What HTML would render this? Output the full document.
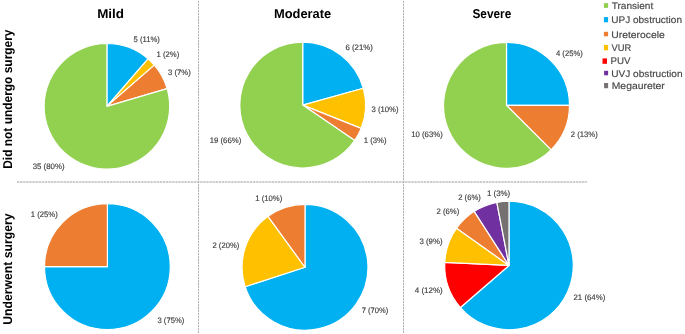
<!DOCTYPE html>
<html lang="en"><head><meta charset="utf-8"><title>Pie charts</title>
<style>html,body{margin:0;padding:0;background:#fff;}svg{display:block;will-change:transform;}</style></head>
<body>
<svg width="685" height="334" viewBox="0 0 685 334" font-family="Liberation Sans, Arial, sans-serif" text-rendering="geometricPrecision">
<rect width="685" height="334" fill="#fff"/>
<line x1="17" y1="182" x2="587" y2="182" stroke="#efefef" stroke-width="2"/>
<line x1="17.05" y1="182" x2="587" y2="182" stroke="#cccccc" stroke-width="2" stroke-dasharray="2 1.106"/>
<line x1="198.5" y1="1" x2="198.5" y2="333" stroke="#e8e8e8" stroke-width="1"/>
<line x1="198.5" y1="1.1" x2="198.5" y2="333" stroke="#b0b0b0" stroke-width="1" stroke-dasharray="1.9 1.1"/>
<line x1="403.5" y1="1" x2="403.5" y2="333" stroke="#e9e9e9" stroke-width="1"/>
<line x1="403.5" y1="1.1" x2="403.5" y2="333" stroke="#b0b0b0" stroke-width="1" stroke-dasharray="1.9 1.1"/>
<path d="M106.90,106.30 L106.90,43.50 A62.8,62.8 0 0 1 148.03,58.84 Z" fill="#00B0F0" stroke="#fff" stroke-width="1.2" stroke-linejoin="round"/>
<path d="M106.90,106.30 L148.03,58.84 A62.8,62.8 0 0 1 154.36,65.17 Z" fill="#FFC000" stroke="#fff" stroke-width="1.2" stroke-linejoin="round"/>
<path d="M106.90,106.30 L154.36,65.17 A62.8,62.8 0 0 1 167.16,88.61 Z" fill="#ED7D31" stroke="#fff" stroke-width="1.2" stroke-linejoin="round"/>
<path d="M106.90,106.30 L167.16,88.61 A62.8,62.8 0 1 1 106.90,43.50 Z" fill="#92D050" stroke="#fff" stroke-width="1.2" stroke-linejoin="round"/>
<path d="M302.70,105.10 L302.70,42.20 A62.9,62.9 0 0 1 363.31,88.27 Z" fill="#00B0F0" stroke="#fff" stroke-width="1.2" stroke-linejoin="round"/>
<path d="M302.70,105.10 L363.31,88.27 A62.9,62.9 0 0 1 361.13,128.38 Z" fill="#FFC000" stroke="#fff" stroke-width="1.2" stroke-linejoin="round"/>
<path d="M302.70,105.10 L361.13,128.38 A62.9,62.9 0 0 1 354.76,140.40 Z" fill="#ED7D31" stroke="#fff" stroke-width="1.2" stroke-linejoin="round"/>
<path d="M302.70,105.10 L354.76,140.40 A62.9,62.9 0 1 1 302.70,42.20 Z" fill="#92D050" stroke="#fff" stroke-width="1.2" stroke-linejoin="round"/>
<path d="M506.50,105.35 L506.50,42.35 A63.0,63.0 0 0 1 569.50,105.35 Z" fill="#00B0F0" stroke="#fff" stroke-width="1.2" stroke-linejoin="round"/>
<path d="M506.50,105.35 L569.50,105.35 A63.0,63.0 0 0 1 551.05,149.90 Z" fill="#ED7D31" stroke="#fff" stroke-width="1.2" stroke-linejoin="round"/>
<path d="M506.50,105.35 L551.05,149.90 A63.0,63.0 0 1 1 506.50,42.35 Z" fill="#92D050" stroke="#fff" stroke-width="1.2" stroke-linejoin="round"/>
<path d="M107.40,266.65 L107.40,203.75 A62.9,62.9 0 1 1 44.50,266.65 Z" fill="#00B0F0" stroke="#fff" stroke-width="1.2" stroke-linejoin="round"/>
<path d="M107.40,266.65 L44.50,266.65 A62.9,62.9 0 0 1 107.40,203.75 Z" fill="#ED7D31" stroke="#fff" stroke-width="1.2" stroke-linejoin="round"/>
<path d="M305.00,267.25 L305.00,204.30 A62.95,62.95 0 1 1 245.13,286.70 Z" fill="#00B0F0" stroke="#fff" stroke-width="1.2" stroke-linejoin="round"/>
<path d="M305.00,267.25 L245.13,286.70 A62.95,62.95 0 0 1 268.00,216.32 Z" fill="#FFC000" stroke="#fff" stroke-width="1.2" stroke-linejoin="round"/>
<path d="M305.00,267.25 L268.00,216.32 A62.95,62.95 0 0 1 305.00,204.30 Z" fill="#ED7D31" stroke="#fff" stroke-width="1.2" stroke-linejoin="round"/>
<path d="M509.00,265.45 L509.00,201.15 A64.3,64.3 0 1 1 460.41,307.56 Z" fill="#00B0F0" stroke="#fff" stroke-width="1.2" stroke-linejoin="round"/>
<path d="M509.00,265.45 L460.41,307.56 A64.3,64.3 0 0 1 444.77,262.39 Z" fill="#FF0000" stroke="#fff" stroke-width="1.2" stroke-linejoin="round"/>
<path d="M509.00,265.45 L444.77,262.39 A64.3,64.3 0 0 1 456.62,228.15 Z" fill="#FFC000" stroke="#fff" stroke-width="1.2" stroke-linejoin="round"/>
<path d="M509.00,265.45 L456.62,228.15 A64.3,64.3 0 0 1 474.24,211.36 Z" fill="#ED7D31" stroke="#fff" stroke-width="1.2" stroke-linejoin="round"/>
<path d="M509.00,265.45 L474.24,211.36 A64.3,64.3 0 0 1 496.83,202.31 Z" fill="#7030A0" stroke="#fff" stroke-width="1.2" stroke-linejoin="round"/>
<path d="M509.00,265.45 L496.83,202.31 A64.3,64.3 0 0 1 509.00,201.15 Z" fill="#767171" stroke="#fff" stroke-width="1.2" stroke-linejoin="round"/>
<rect x="603.9" y="3.15" width="4.2" height="4.75" fill="#92D050"/>
<rect x="603.9" y="17.1" width="4.2" height="5.2" fill="#00B0F0"/>
<rect x="603.9" y="31.8" width="4.2" height="4.5" fill="#ED7D31"/>
<rect x="603.9" y="44.9" width="4.2" height="5.4" fill="#FFC000"/>
<rect x="602.5" y="58.4" width="4.5" height="5.4" fill="#FF0000"/>
<rect x="604.1" y="70.8" width="4.0" height="4.5" fill="#7030A0"/>
<rect x="604.1" y="83.0" width="4.0" height="5.2" fill="#767171"/>
<text x="133.50" y="42.00" font-size="7.9" font-weight="normal" fill="#3c3c3c" stroke="#3c3c3c" stroke-width="0.15" textLength="26.26" lengthAdjust="spacingAndGlyphs">5 (11%)</text>
<text x="156.48" y="57.00" font-size="7.9" font-weight="normal" fill="#3c3c3c" stroke="#3c3c3c" stroke-width="0.15" textLength="22.79" lengthAdjust="spacingAndGlyphs">1 (2%)</text>
<text x="167.99" y="75.00" font-size="7.9" font-weight="normal" fill="#3c3c3c" stroke="#3c3c3c" stroke-width="0.15" textLength="22.77" lengthAdjust="spacingAndGlyphs">3 (7%)</text>
<text x="32.74" y="169.00" font-size="7.9" font-weight="normal" fill="#3c3c3c" stroke="#3c3c3c" stroke-width="0.15" textLength="31.77" lengthAdjust="spacingAndGlyphs">35 (80%)</text>
<text x="345.49" y="50.00" font-size="7.9" font-weight="normal" fill="#3c3c3c" stroke="#3c3c3c" stroke-width="0.15" textLength="27.27" lengthAdjust="spacingAndGlyphs">6 (21%)</text>
<text x="371.49" y="112.00" font-size="7.9" font-weight="normal" fill="#3c3c3c" stroke="#3c3c3c" stroke-width="0.15" textLength="27.02" lengthAdjust="spacingAndGlyphs">3 (10%)</text>
<text x="363.73" y="143.00" font-size="7.9" font-weight="normal" fill="#3c3c3c" stroke="#3c3c3c" stroke-width="0.15" textLength="22.79" lengthAdjust="spacingAndGlyphs">1 (3%)</text>
<text x="209.74" y="143.00" font-size="7.9" font-weight="normal" fill="#3c3c3c" stroke="#3c3c3c" stroke-width="0.15" textLength="31.53" lengthAdjust="spacingAndGlyphs">19 (66%)</text>
<text x="556.00" y="56.00" font-size="7.9" font-weight="normal" fill="#3c3c3c" stroke="#3c3c3c" stroke-width="0.15" textLength="26.76" lengthAdjust="spacingAndGlyphs">4 (25%)</text>
<text x="570.74" y="137.00" font-size="7.9" font-weight="normal" fill="#3c3c3c" stroke="#3c3c3c" stroke-width="0.15" textLength="27.02" lengthAdjust="spacingAndGlyphs">2 (13%)</text>
<text x="411.23" y="137.00" font-size="7.9" font-weight="normal" fill="#3c3c3c" stroke="#3c3c3c" stroke-width="0.15" textLength="31.53" lengthAdjust="spacingAndGlyphs">10 (63%)</text>
<text x="30.73" y="217.00" font-size="7.9" font-weight="normal" fill="#3c3c3c" stroke="#3c3c3c" stroke-width="0.15" textLength="27.03" lengthAdjust="spacingAndGlyphs">1 (25%)</text>
<text x="157.49" y="323.00" font-size="7.9" font-weight="normal" fill="#3c3c3c" stroke="#3c3c3c" stroke-width="0.15" textLength="26.77" lengthAdjust="spacingAndGlyphs">3 (75%)</text>
<text x="255.23" y="201.00" font-size="7.9" font-weight="normal" fill="#3c3c3c" stroke="#3c3c3c" stroke-width="0.15" textLength="27.03" lengthAdjust="spacingAndGlyphs">1 (10%)</text>
<text x="212.49" y="248.00" font-size="7.9" font-weight="normal" fill="#3c3c3c" stroke="#3c3c3c" stroke-width="0.15" textLength="26.77" lengthAdjust="spacingAndGlyphs">2 (20%)</text>
<text x="361.74" y="313.00" font-size="7.9" font-weight="normal" fill="#3c3c3c" stroke="#3c3c3c" stroke-width="0.15" textLength="26.52" lengthAdjust="spacingAndGlyphs">7 (70%)</text>
<text x="486.98" y="196.00" font-size="7.9" font-weight="normal" fill="#3c3c3c" stroke="#3c3c3c" stroke-width="0.15" textLength="23.29" lengthAdjust="spacingAndGlyphs">1 (3%)</text>
<text x="458.24" y="200.00" font-size="7.9" font-weight="normal" fill="#3c3c3c" stroke="#3c3c3c" stroke-width="0.15" textLength="22.52" lengthAdjust="spacingAndGlyphs">2 (6%)</text>
<text x="436.49" y="214.00" font-size="7.9" font-weight="normal" fill="#3c3c3c" stroke="#3c3c3c" stroke-width="0.15" textLength="22.77" lengthAdjust="spacingAndGlyphs">2 (6%)</text>
<text x="419.50" y="244.00" font-size="7.9" font-weight="normal" fill="#3c3c3c" stroke="#3c3c3c" stroke-width="0.15" textLength="23.01" lengthAdjust="spacingAndGlyphs">3 (9%)</text>
<text x="414.75" y="293.00" font-size="7.9" font-weight="normal" fill="#3c3c3c" stroke="#3c3c3c" stroke-width="0.15" textLength="28.02" lengthAdjust="spacingAndGlyphs">4 (12%)</text>
<text x="573.50" y="300.00" font-size="7.9" font-weight="normal" fill="#3c3c3c" stroke="#3c3c3c" stroke-width="0.15" textLength="31.76" lengthAdjust="spacingAndGlyphs">21 (64%)</text>
<text x="611.75" y="9.00" font-size="9.6" font-weight="normal" fill="#464646" stroke="#464646" stroke-width="0.15" textLength="41.50" lengthAdjust="spacingAndGlyphs">Transient</text>
<text x="611.24" y="23.00" font-size="9.6" font-weight="normal" fill="#464646" stroke="#464646" stroke-width="0.15" textLength="70.77" lengthAdjust="spacingAndGlyphs">UPJ obstruction</text>
<text x="611.24" y="38.00" font-size="9.6" font-weight="normal" fill="#464646" stroke="#464646" stroke-width="0.15" textLength="53.52" lengthAdjust="spacingAndGlyphs">Ureterocele</text>
<text x="611.50" y="51.00" font-size="9.6" font-weight="normal" fill="#464646" stroke="#464646" stroke-width="0.15" textLength="19.76" lengthAdjust="spacingAndGlyphs">VUR</text>
<text x="610.48" y="64.00" font-size="9.6" font-weight="normal" fill="#464646" stroke="#464646" stroke-width="0.15" textLength="20.02" lengthAdjust="spacingAndGlyphs">PUV</text>
<text x="611.24" y="77.00" font-size="9.6" font-weight="normal" fill="#464646" stroke="#464646" stroke-width="0.15" textLength="71.27" lengthAdjust="spacingAndGlyphs">UVJ obstruction</text>
<text x="611.74" y="89.00" font-size="9.6" font-weight="normal" fill="#464646" stroke="#464646" stroke-width="0.15" textLength="53.01" lengthAdjust="spacingAndGlyphs">Megaureter</text>
<text x="97.18" y="18.00" font-size="12.8" font-weight="bold" fill="#000" textLength="26.88" lengthAdjust="spacingAndGlyphs">Mild</text>
<text x="273.98" y="18.00" font-size="12.8" font-weight="bold" fill="#000" textLength="57.28" lengthAdjust="spacingAndGlyphs">Moderate</text>
<text x="472.49" y="18.00" font-size="12.8" font-weight="bold" fill="#000" textLength="38.77" lengthAdjust="spacingAndGlyphs">Severe</text>
<text transform="translate(12.30,168.76) rotate(-90)" font-size="12.8" font-weight="bold" fill="#000" textLength="139.26" lengthAdjust="spacingAndGlyphs">Did not undergo surgery</text>
<text transform="translate(12.30,324.76) rotate(-90)" font-size="12.8" font-weight="bold" fill="#000" textLength="111.26" lengthAdjust="spacingAndGlyphs">Underwent surgery</text>
</svg>
</body></html>
